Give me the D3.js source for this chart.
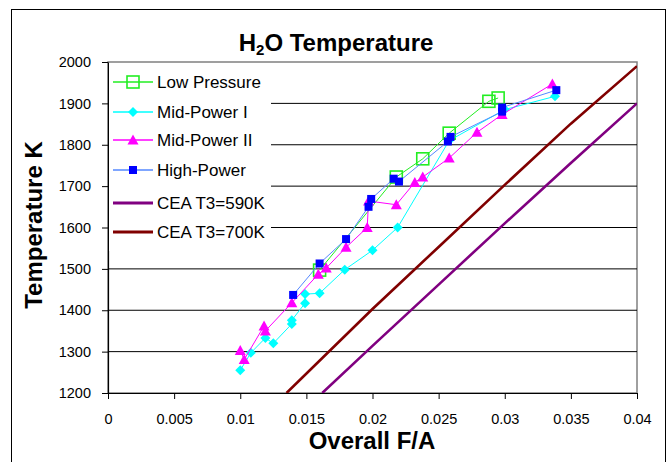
<!DOCTYPE html>
<html><head><meta charset="utf-8">
<script src="https://cdn.jsdelivr.net/npm/d3@7/dist/d3.min.js"></script>
<style>
body{margin:0;background:#fff}
svg{display:block}
text{font-family:"Liberation Sans",Arial,Helvetica,sans-serif}
</style>
</head><body>
<svg id="chart" width="670" height="462"></svg>
<script>
// ---- data ----
const seriesNames = ["Low Pressure", "Mid-Power I", "Mid-Power II", "High-Power", "CEA T3=590K", "CEA T3=700K"];

const lowPressureFA = [0.0160, 0.0218, 0.0238, 0.0258, 0.0288, 0.0295];
const lowPressureT  = [1497, 1722, 1766, 1828, 1905, 1913];

const midPower1FA = [0.0100, 0.0108, 0.0119, 0.0125, 0.0139, 0.0139, 0.0149, 0.0149, 0.0160, 0.0179, 0.0200, 0.0219, 0.0258, 0.0300, 0.0338];
const midPower1T  = [1255, 1297, 1333, 1320, 1367, 1376, 1417, 1439, 1441, 1498, 1545, 1600, 1810, 1885, 1917];

const midPower2FA = [0.0100, 0.0103, 0.0118, 0.0119, 0.0139, 0.0159, 0.0165, 0.0180, 0.0196, 0.0197, 0.0218, 0.0232, 0.0238, 0.0258, 0.0279, 0.0298, 0.0336];
const midPower2T  = [1303, 1281, 1362, 1350, 1418, 1487, 1502, 1552, 1600, 1664, 1655, 1709, 1722, 1768, 1830, 1873, 1947];

const highPowerFA = [0.0140, 0.0160, 0.0180, 0.0197, 0.0199, 0.0216, 0.0220, 0.0257, 0.0259, 0.0298, 0.0298, 0.0339];
const highPowerT  = [1437, 1513, 1572, 1650, 1669, 1718, 1711, 1808, 1819, 1880, 1890, 1932];

const cea590FA = [0.0162, 0.0200, 0.0250, 0.0300, 0.0350, 0.0400];
const cea590T  = [1200, 1314, 1462, 1610, 1756, 1900];

const cea700FA = [0.0135, 0.0200, 0.0250, 0.0300, 0.0350, 0.0400];
const cea700T  = [1200, 1403, 1553, 1703, 1851, 1990];

const xTicks = [0, 0.005, 0.01, 0.015, 0.02, 0.025, 0.03, 0.035, 0.04];
const yTicks = [1200, 1300, 1400, 1500, 1600, 1700, 1800, 1900, 2000];

// ---- chart ----
const svg = d3.select("#chart");
const L = 108, R = 637, T = 62, B = 393;
const x = d3.scaleLinear().domain([0, 0.04]).range([L, R]);
const y = d3.scaleLinear().domain([1200, 2000]).range([B, T]);

// outer border
svg.append("rect").attr("x", 11.5).attr("y", 9.5).attr("width", 654).attr("height", 460)
  .attr("fill", "#fff").attr("stroke", "#000").attr("stroke-width", 1);

// plot area border (top/right gray)
svg.append("rect").attr("x", L).attr("y", T).attr("width", R - L).attr("height", B - T)
  .attr("fill", "#fff").attr("stroke", "#808080").attr("stroke-width", 1.5);

// gridlines
svg.append("g").selectAll("line").data(yTicks.filter(v => v > 1200 && v < 2000)).join("line")
  .attr("x1", L).attr("x2", R).attr("y1", d => y(d)).attr("y2", d => y(d))
  .attr("stroke", "#000").attr("stroke-width", 1);

// clip
svg.append("defs").append("clipPath").attr("id", "clip")
  .append("rect").attr("x", L).attr("y", T).attr("width", R - L).attr("height", B - T);

const fmtX = d => d === 0 ? "0" : String(+d.toFixed(3));
const fmtY = d3.format("d");

// axes
const xAxis = svg.append("g").attr("transform", `translate(0,${B})`)
  .call(d3.axisBottom(x).tickValues(xTicks).tickFormat(fmtX).tickSizeInner(6).tickSizeOuter(0).tickPadding(15));
const yAxis = svg.append("g").attr("transform", `translate(${L},0)`)
  .call(d3.axisLeft(y).tickValues(yTicks).tickFormat(fmtY).tickSizeInner(6).tickSizeOuter(0).tickPadding(11));
[xAxis, yAxis].forEach(a => {
  a.select(".domain").attr("stroke", "#000").attr("stroke-width", 1.2);
  a.selectAll(".tick line").attr("stroke", "#000");
  a.selectAll(".tick text").attr("font-size", 14.5).attr("fill", "#000")
    .attr("font-family", '"Liberation Sans",Arial,sans-serif');
});

// series definitions
const diamond = "M0,-5L5,0L0,5L-5,0Z";
const triangle = "M0,-5.5L5.5,4.5L-5.5,4.5Z";
const series = [
  {name: seriesNames[0], fa: lowPressureFA, t: lowPressureT, line: "#22ee22", lw: 1, marker: "openSquare"},
  {name: seriesNames[1], fa: midPower1FA, t: midPower1T, line: "#00ffff", lw: 1, marker: "diamond"},
  {name: seriesNames[2], fa: midPower2FA, t: midPower2T, line: "#ff00ff", lw: 1, marker: "triangle"},
  {name: seriesNames[3], fa: highPowerFA, t: highPowerT, line: "#5588ff", lw: 1, marker: "square"},
  {name: seriesNames[4], fa: cea590FA, t: cea590T, line: "#800080", lw: 2.6, marker: null},
  {name: seriesNames[5], fa: cea700FA, t: cea700T, line: "#800000", lw: 2.6, marker: null}
];

function drawMarker(g, kind, cx, cy) {
  if (kind === "openSquare") {
    g.append("rect").attr("x", cx - 6).attr("y", cy - 6).attr("width", 12).attr("height", 12)
      .attr("fill", "none").attr("stroke", "#22ee22").attr("stroke-width", 1.6);
  } else if (kind === "diamond") {
    g.append("path").attr("d", diamond).attr("transform", `translate(${cx},${cy})`).attr("fill", "#00ffff");
  } else if (kind === "triangle") {
    g.append("path").attr("d", triangle).attr("transform", `translate(${cx},${cy})`).attr("fill", "#ff00ff");
  } else if (kind === "square") {
    g.append("rect").attr("x", cx - 4).attr("y", cy - 4).attr("width", 8).attr("height", 8).attr("fill", "#0000ff");
  }
}

const line = d3.line().x(d => x(d[0])).y(d => y(d[1]));
const plot = svg.append("g").attr("clip-path", "url(#clip)");
series.forEach(s => {
  const pts = s.fa.map((f, i) => [f, s.t[i]]);
  const g = plot.append("g");
  g.append("path").attr("d", line(pts)).attr("fill", "none").attr("stroke", s.line).attr("stroke-width", s.lw);
  if (s.marker) pts.forEach(p => drawMarker(g, s.marker, x(p[0]), y(p[1])));
});

// legend
const lg = svg.append("g");
lg.append("rect").attr("x", L + 1).attr("y", T + 1).attr("width", 162).attr("height", 188).attr("fill", "#fff");
const legendY = [82, 112, 140, 170, 203, 232];
series.forEach((s, i) => {
  const cy = legendY[i];
  lg.append("line").attr("x1", 113).attr("x2", 153).attr("y1", cy).attr("y2", cy)
    .attr("stroke", s.line).attr("stroke-width", s.marker ? 1.5 : 3);
  if (s.marker) drawMarker(lg, s.marker, 133, cy);
  lg.append("text").attr("x", 157).attr("y", cy).attr("dy", "0.36em")
    .attr("font-size", 17).text(s.name);
});

// title
const title = svg.append("text").attr("x", 336).attr("y", 51).attr("text-anchor", "middle")
  .attr("font-size", 24).attr("font-weight", "bold");
title.append("tspan").text("H");
title.append("tspan").attr("font-size", 15).attr("dy", 4).text("2");
title.append("tspan").attr("dy", -4).text("O Temperature");

// axis titles
svg.append("text").attr("x", 372).attr("y", 449).attr("text-anchor", "middle")
  .attr("font-size", 24).attr("font-weight", "bold").text("Overall F/A");
svg.append("text").attr("transform", "translate(42,225) rotate(-90)").attr("text-anchor", "middle")
  .attr("font-size", 24).attr("font-weight", "bold").text("Temperature K");
</script>
</body></html>
